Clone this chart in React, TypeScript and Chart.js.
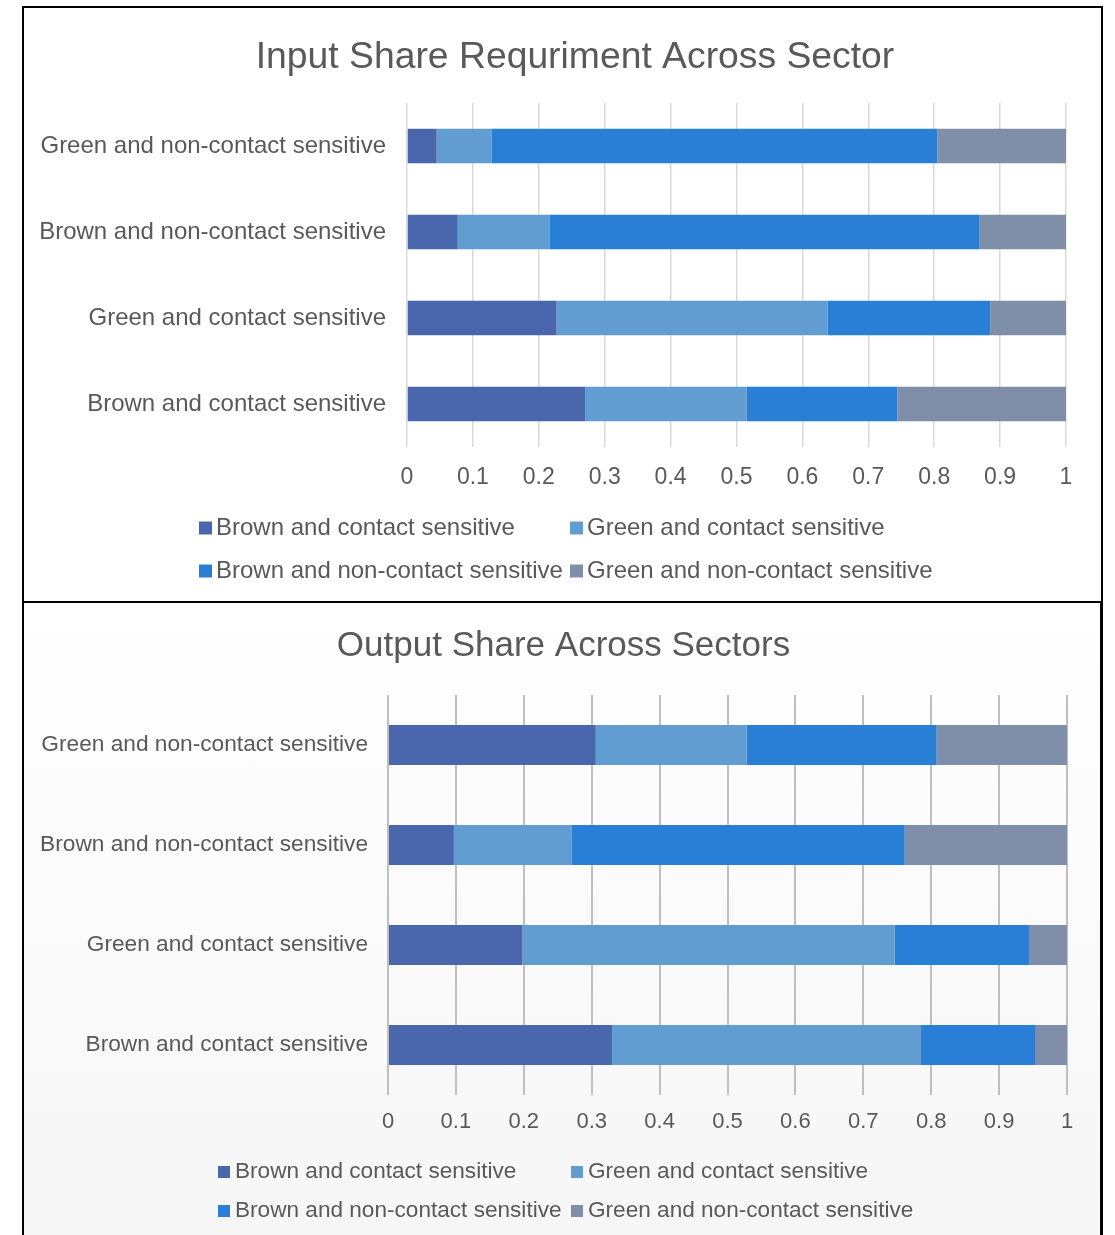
import React, { useEffect, useRef } from 'react';
import { Chart, registerables } from 'chart.js';

Chart.register(...registerables);

const FONT = "'Liberation Sans', Arial, sans-serif";
const TEXT_COLOR = '#595959';

// ---- data ----
const categories = [
  'Green and non-contact sensitive',
  'Brown and non-contact sensitive',
  'Green and contact sensitive',
  'Brown and contact sensitive',
];
const seriesNames = [
  'Brown and contact sensitive',
  'Green and contact sensitive',
  'Brown and non-contact sensitive',
  'Green and non-contact sensitive',
];
const seriesColors = ['#4A66AC', '#629DD1', '#297FD5', '#7F8FA9'];
const xTickLabels = ['0', '0.1', '0.2', '0.3', '0.4', '0.5', '0.6', '0.7', '0.8', '0.9', '1'];

const inputTitle = 'Input Share Requriment Across Sector';
const inputBrownContact = [0.045, 0.077, 0.227, 0.271];
const inputGreenContact = [0.083, 0.139, 0.411, 0.244];
const inputBrownNonContact = [0.677, 0.652, 0.247, 0.229];
const inputGreenNonContact = [0.195, 0.132, 0.115, 0.256];

const outputTitle = 'Output Share Across Sectors';
const outputBrownContact = [0.306, 0.097, 0.198, 0.33];
const outputGreenContact = [0.222, 0.173, 0.548, 0.455];
const outputBrownNonContact = [0.28, 0.491, 0.198, 0.169];
const outputGreenNonContact = [0.192, 0.239, 0.056, 0.046];

const gridLegend = {
  id: 'gridLegend',
  afterLayout(chart: any, _args: any, opts: any) {
    const t = chart.titleBlock;
    if (t && opts.titleShift) {
      t.left += opts.titleShift;
      t.right += opts.titleShift;
    }
  },
  afterDraw(chart: any, _args: any, opts: any) {
    const ctx = chart.ctx;
    ctx.save();
    chart.data.datasets.forEach((ds: any, i: number) => {
      const col = i % 2;
      const row = Math.floor(i / 2);
      const x = opts.colX[col];
      const y = opts.rowY[row];
      ctx.fillStyle = ds.backgroundColor;
      ctx.fillRect(x, y - opts.box / 2, opts.box, opts.box);
      ctx.font = `${opts.size}px ${FONT}`;
      ctx.fillStyle = TEXT_COLOR;
      ctx.textBaseline = 'middle';
      ctx.textAlign = 'left';
      ctx.fillText(ds.label, x + opts.box + opts.gap, y);
    });
    ctx.restore();
  },
};

type Cfg = {
  title: string;
  series: number[][];
  width: number;
  height: number;
  titleSize: number;
  titlePadTop: number;
  titlePadBottom: number;
  padRight: number;
  yAxisWidth: number;
  yLabelSize: number;
  yPad: number;
  xAxisHeight: number;
  xLabelSize: number;
  xPad: number;
  gridColor: string;
  gridWidth: number;
  legend: { colX: number[]; rowY: number[]; box: number; gap: number; size: number; titleShift: number };
};

function StackedBar({ cfg }: { cfg: Cfg }) {
  const ref = useRef<HTMLCanvasElement>(null);
  useEffect(() => {
    if (!ref.current) return;
    const chart = new Chart(ref.current, {
      type: 'bar',
      data: {
        labels: categories,
        datasets: cfg.series.map((vals, i) => ({
          label: seriesNames[i],
          data: vals,
          backgroundColor: seriesColors[i],
          borderWidth: 0,
          barPercentage: 0.4,
          categoryPercentage: 1,
        })),
      },
      options: {
        indexAxis: 'y',
        responsive: false,
        animation: false,
        layout: { padding: { left: 0, right: cfg.padRight, top: 0, bottom: 0 } },
        plugins: {
          legend: { display: false },
          tooltip: { enabled: false },
          title: {
            display: true,
            text: cfg.title,
            color: TEXT_COLOR,
            font: { family: FONT, size: cfg.titleSize, weight: 'normal' },
            padding: { top: cfg.titlePadTop, bottom: cfg.titlePadBottom },
          },
          gridLegend: cfg.legend,
        } as any,
        scales: {
          x: {
            stacked: true,
            min: 0,
            max: 1,
            border: { display: false },
            grid: { color: cfg.gridColor, lineWidth: cfg.gridWidth, drawTicks: false },
            ticks: {
              stepSize: 0.1,
              padding: cfg.xPad,
              color: TEXT_COLOR,
              font: { family: FONT, size: cfg.xLabelSize },
              maxRotation: 0,
              autoSkip: false,
              callback: (_v: any, idx: number) => xTickLabels[idx],
            },
            afterFit: (s: any) => {
              s.height = cfg.xAxisHeight;
            },
          },
          y: {
            stacked: true,
            border: { display: false },
            grid: { display: false, drawTicks: false },
            ticks: {
              padding: cfg.yPad,
              color: TEXT_COLOR,
              font: { family: FONT, size: cfg.yLabelSize },
            },
            afterFit: (s: any) => {
              s.width = cfg.yAxisWidth;
            },
          },
        },
      },
      plugins: [gridLegend],
    });
    return () => chart.destroy();
  }, []);
  return <canvas ref={ref} width={cfg.width} height={cfg.height} style={{ display: 'block' }} />;
}

const topCfg: Cfg = {
  title: inputTitle,
  series: [inputBrownContact, inputGreenContact, inputBrownNonContact, inputGreenNonContact],
  width: 1077,
  height: 593,
  titleSize: 37.3,
  titlePadTop: 27,
  titlePadBottom: 23.3,
  padRight: 35,
  yAxisWidth: 383,
  yLabelSize: 24,
  yPad: 21,
  xAxisHeight: 154,
  xLabelSize: 23,
  xPad: 17,
  gridColor: '#d9d9d9',
  gridWidth: 1.5,
  legend: { colX: [175, 546], rowY: [520, 563], box: 13, gap: 4, size: 24, titleShift: 30 },
};

const bottomCfg: Cfg = {
  title: outputTitle,
  series: [outputBrownContact, outputGreenContact, outputBrownNonContact, outputGreenNonContact],
  width: 1077,
  height: 632,
  titleSize: 35,
  titlePadTop: 22,
  titlePadBottom: 28,
  padRight: 34,
  yAxisWidth: 364,
  yLabelSize: 22.7,
  yPad: 20,
  xAxisHeight: 140,
  xLabelSize: 22,
  xPad: 13.5,
  gridColor: '#bfbfbf',
  gridWidth: 2,
  legend: { colX: [194, 547], rowY: [569, 608], box: 12, gap: 5, size: 22.6, titleShift: 18 },
};

export default function App() {
  return (
    <div>
      <div
        style={{
          position: 'absolute',
          left: 22,
          top: 6,
          width: 1081,
          height: 597,
          border: '2px solid #000',
          boxSizing: 'border-box',
          background: '#fff',
          zIndex: 2,
        }}
      >
        <StackedBar cfg={topCfg} />
      </div>
      <div
        style={{
          position: 'absolute',
          left: 22,
          top: 601,
          width: 1081,
          height: 634,
          borderTop: '2px solid #000',
          borderLeft: '2px solid #000',
          borderRight: '3px solid #000',
          boxSizing: 'border-box',
          background: 'linear-gradient(#ffffff, #f6f6f6)',
          zIndex: 1,
        }}
      >
        <StackedBar cfg={bottomCfg} />
      </div>
    </div>
  );
}
